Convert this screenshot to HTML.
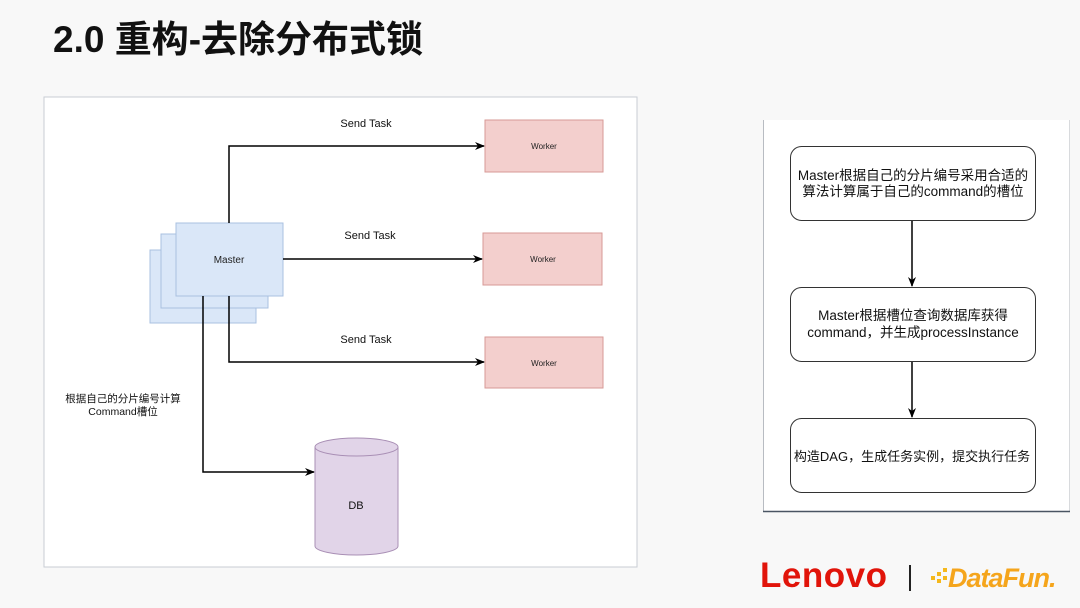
<!DOCTYPE html>
<html><head><meta charset="utf-8"><style>
html,body{margin:0;padding:0;background:#f8f8f8;}
svg{display:block}
text{font-family:"Liberation Sans","Noto Sans CJK SC",sans-serif;}
</style></head><body>
<svg width="1080" height="608" viewBox="0 0 1080 608" xmlns="http://www.w3.org/2000/svg">
<defs><marker id="a" markerWidth="10" markerHeight="10" refX="9" refY="5" orient="auto" markerUnits="userSpaceOnUse"><path d="M0,1 L10,5 L0,9 L3,5 Z" fill="#000"/></marker></defs>
<rect width="1080" height="608" fill="#f8f8f8"/>
<text x="53" y="52" font-size="37" font-weight="bold" fill="#111">2.0 重构-去除分布式锁</text>
<!-- left panel -->
<rect x="44" y="97" width="593" height="470" fill="#fff" stroke="#c8cdd3" stroke-width="1"/>
<rect x="150" y="250" width="106" height="73" fill="#dae7f8" stroke="#a9c0e0"/>
<rect x="161" y="234" width="107" height="74" fill="#dae7f8" stroke="#a9c0e0"/>
<rect x="176" y="223" width="107" height="73" fill="#dae7f8" stroke="#a9c0e0"/>
<text x="229" y="263" font-size="10" text-anchor="middle" fill="#222">Master</text>
<rect x="485" y="120" width="118" height="52" fill="#f3cfcd" stroke="#d79a96"/>
<rect x="483" y="233" width="119" height="52" fill="#f3cfcd" stroke="#d79a96"/>
<rect x="485" y="337" width="118" height="51" fill="#f3cfcd" stroke="#d79a96"/>
<text x="544" y="149" font-size="8" text-anchor="middle" fill="#222">Worker</text>
<text x="543" y="262" font-size="8" text-anchor="middle" fill="#222">Worker</text>
<text x="544" y="366" font-size="8" text-anchor="middle" fill="#222">Worker</text>
<g stroke="#000" stroke-width="1.5" fill="none">
<path d="M229,223 V146 H484" marker-end="url(#a)"/>
<path d="M283,259 H482" marker-end="url(#a)"/>
<path d="M229,296 V362 H484" marker-end="url(#a)"/>
<path d="M203,296 V472 H314" marker-end="url(#a)"/>
</g>
<text x="366" y="127" font-size="11" text-anchor="middle" fill="#111">Send Task</text>
<text x="370" y="239" font-size="11" text-anchor="middle" fill="#111">Send Task</text>
<text x="366" y="343" font-size="11" text-anchor="middle" fill="#111">Send Task</text>
<text x="123" y="402" font-size="10.5" text-anchor="middle" fill="#111">根据自己的分片编号计算</text>
<text x="123" y="415" font-size="10.5" text-anchor="middle" fill="#111">Command槽位</text>
<path d="M315,447 V546 A41.5,9 0 0 0 398,546 V447" fill="#e1d4e8" stroke="#a98fb5"/>
<ellipse cx="356.5" cy="447" rx="41.5" ry="9" fill="#e1d4e8" stroke="#a98fb5"/>
<text x="356" y="509" font-size="11" text-anchor="middle" fill="#111">DB</text>
<!-- right panel -->
<rect x="763" y="120" width="306" height="391" fill="#fff"/>
<line x1="763.5" y1="120" x2="763.5" y2="511" stroke="#b8bcc2"/>
<line x1="1069.5" y1="120" x2="1069.5" y2="511" stroke="#d8dadd"/>
<line x1="763" y1="511.5" x2="1070" y2="511.5" stroke="#4a5563" stroke-width="1.5"/>
<rect x="790.5" y="146.5" width="245" height="74" rx="11" fill="#fff" stroke="#333"/>
<rect x="790.5" y="287.5" width="245" height="74" rx="11" fill="#fff" stroke="#333"/>
<rect x="790.5" y="418.5" width="245" height="74" rx="11" fill="#fff" stroke="#333"/>
<text x="913" y="180" font-size="13.5" text-anchor="middle" fill="#111">Master根据自己的分片编号采用合适的</text>
<text x="913" y="196" font-size="13.5" text-anchor="middle" fill="#111">算法计算属于自己的command的槽位</text>
<text x="913" y="320" font-size="13.5" text-anchor="middle" fill="#111">Master根据槽位查询数据库获得</text>
<text x="913" y="337" font-size="13.5" text-anchor="middle" fill="#111">command，并生成processInstance</text>
<text x="912" y="461" font-size="13" text-anchor="middle" fill="#111">构造DAG，生成任务实例，提交执行任务</text>
<g stroke="#000" stroke-width="1.5" fill="none">
<path d="M912,221 V286" marker-end="url(#a)"/>
<path d="M912,362 V417" marker-end="url(#a)"/>
</g>
<!-- logos -->
<text x="760" y="587" font-size="35" font-weight="bold" fill="#e1140a" letter-spacing="0.5">Lenovo</text>
<line x1="910" y1="565" x2="910" y2="591" stroke="#222" stroke-width="2"/>
<g fill="#f5b81c">
<rect x="931" y="576" width="4" height="4"/><rect x="937" y="572" width="4" height="4"/><rect x="937" y="579" width="4" height="4"/><rect x="943" y="568" width="4" height="4"/><rect x="943" y="576" width="4" height="4"/>
</g>
<text x="948" y="587" font-size="27" font-weight="bold" font-style="italic" fill="#f5a51c" letter-spacing="-1">DataFun.</text>
</svg>
</body></html>
